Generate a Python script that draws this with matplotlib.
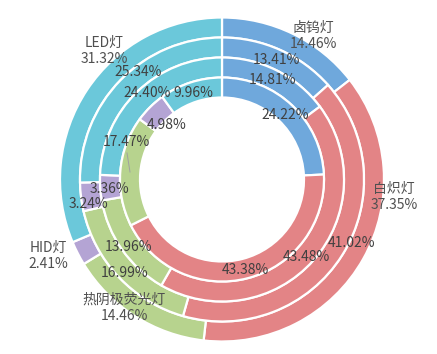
import matplotlib
matplotlib.use("Agg")
import matplotlib.pyplot as plt

plt.rcParams['font.family'] = ['Noto Sans CJK SC', 'DejaVu Sans']

categories = ['卤钨灯', '白炽灯', '热阴极荧光灯', 'HID灯', 'LED灯']
colors = ['#6FA8DC', '#E38486', '#B7D38E', '#B4A4D4', '#6BC8DA']

# rings from outermost to innermost
ring1 = [14.46, 37.35, 14.46, 2.41, 31.32]
ring2 = [13.41, 41.02, 16.99, 3.24, 25.34]
ring3 = [14.81, 43.48, 13.96, 3.36, 24.40]
ring4 = [24.22, 43.38, 17.47, 4.98, 9.96]
rings = [ring1, ring2, ring3, ring4]

# layout (pixel positions of labels in the image)
W, H = 437, 354
cx, cy = 222, 179.5
radii = [162, 142, 122, 102]
width = 20
label_pos = [
    [(313, 36), (394, 197), (124, 308), (48, 256), (104, 51)],
    [(276, 60), (352, 243), (125, 273), (88, 204), (138, 72)],
    [(273, 80), (306, 257), (129, 247), (109, 189), (147, 93)],
    [(285, 115), (245, 270), (126, 142), (167, 125), (193, 93)],
]

fig = plt.figure(figsize=(W / 100, H / 100), dpi=100)
ax = fig.add_axes([0, 0, 1, 1])
ax.set_xlim(-cx, W - cx)
ax.set_ylim(-(H - cy), cy)
ax.set_aspect('equal')
ax.axis('off')

for vals, r in zip(rings, radii):
    ax.pie(vals, radius=r, colors=colors, startangle=90, counterclock=False,
           wedgeprops=dict(width=width, edgecolor='white', linewidth=1.6))

ax.set_xlim(-cx, W - cx)
ax.set_ylim(-(H - cy), cy)

fs = 10
for i, vals in enumerate(rings):
    for j, v in enumerate(vals):
        px, py = label_pos[i][j]
        x, y = px - cx, cy - py
        if i == 0:
            ax.text(x, y, f'{categories[j]}\n{v:.2f}%', ha='center', va='center',
                    fontsize=fs, color='#505050', linespacing=1.25)
        else:
            ax.text(x, y, f'{v:.2f}%', ha='center', va='center',
                    fontsize=fs, color='#404040')

# leader line for the small inner label
ax.plot([127 - cx, 130 - cx], [cy - 153, cy - 172], color='#a0a0a0', lw=0.7)

fig.savefig('out.png', dpi=100)
